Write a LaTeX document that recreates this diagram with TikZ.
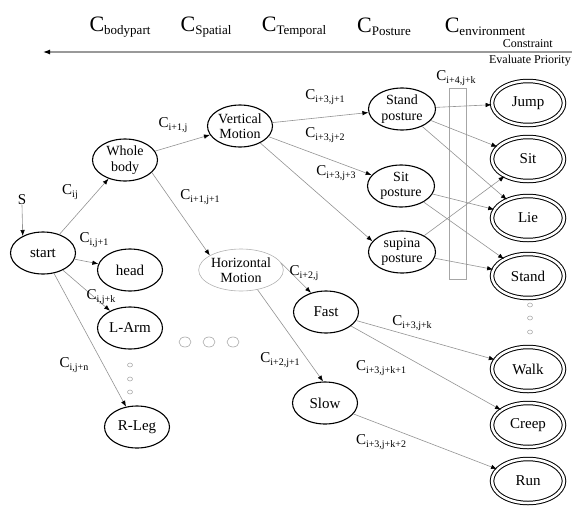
\documentclass[tikz,border=0pt]{standalone}
\usepackage{fontspec}
\setmainfont{Liberation Serif}
\usetikzlibrary{shapes.geometric,arrows.meta}
\newcommand\Csub[1]{C\raisebox{-0.35ex}{\fontsize{10}{10}\selectfont #1}}
\newcommand\Chead[1]{C\raisebox{-0.3ex}{\fontsize{13}{13}\selectfont #1}}
\begin{document}
\begin{tikzpicture}[x=1pt,y=-1pt,
  st/.style={ellipse, draw=black, line width=1.1pt, minimum width=65pt, minimum height=42pt, inner sep=0pt, font=\fontsize{15}{16}\selectfont, align=center},
  st2/.style={st, font=\fontsize{14}{15.5}\selectfont},
  fin/.style={ellipse, draw=black, line width=1pt, double=white, double distance=2.5pt, minimum width=72pt, minimum height=44pt, inner sep=0pt, font=\fontsize{15}{16}\selectfont},
  conn/.style={draw=gray!85, line width=0.6pt, -{Latex[length=6pt,width=4.5pt,color=black]}},
  lab/.style={font=\fontsize{15}{16}\selectfont, inner sep=0pt},
  hlab/.style={font=\fontsize{22}{24}\selectfont, inner sep=0pt},
  small/.style={font=\fontsize{12}{13}\selectfont, inner sep=0pt},
  bigdot/.style={ellipse, draw=gray!70, line width=0.6pt, minimum width=12pt, minimum height=10pt, inner sep=0pt},
  sdot/.style={ellipse, draw=gray!70, line width=0.5pt, minimum width=5pt, minimum height=4pt, inner sep=0pt}
]
\useasboundingbox (0,0) rectangle (572,514);

% header
\node[hlab] (h1) at (120,27) {\Chead{bodypart}};
\node[hlab] (h2) at (206,27) {\Chead{Spatial}};
\node[hlab] (h3) at (294,27) {\Chead{Temporal}};
\node[hlab] (h4) at (384,27) {\Chead{Posture}};
\node[hlab] (h5) at (485,27) {\Chead{environment}};
\coordinate (ar) at (572,52);
\coordinate (al) at (43,52);
\draw[draw=gray!80, line width=1.2pt, -{Latex[length=7pt,width=5pt,color=black]}] (ar) -- (al);
\node[small, anchor=east] (con) at (553,44) {Constraint};
\node[small, anchor=east] (evp) at (571,61) {Evaluate Priority};

% nodes
\node[lab] (S) at (22,200) {S};
\node[st] (start) at (43,253) {start};
\node[st] (head) at (130,270) {head};
\node[st] (larm) at (130,328) {L-Arm};
\node[st] (rleg) at (137,427) {R-Leg};
\node[st2] (wb) at (125,160) {Whole\\body};
\node[st2] (vm) at (240,126) {Vertical\\Motion};
\node[st2, draw=gray!60, line width=0.6pt] (hm) at (241,270) {Horizontal\\Motion};
\node[st] (fast) at (326,312) {Fast};
\node[st] (slow) at (325,403) {Slow};
\node[st2, minimum width=67pt] (stp) at (402,109) {Stand\\posture};
\node[st2, minimum width=67pt] (sitp) at (401,186) {Sit\\posture};
\node[st2, minimum width=67pt] (sup) at (402,252) {supina\\posture};
\node[fin] (jump) at (528,103) {Jump};
\node[fin] (sit) at (528,159) {Sit};
\node[fin] (lie) at (528,218) {Lie};
\node[fin] (stand) at (528,276) {Stand};
\node[fin] (walk) at (528,369) {Walk};
\node[fin] (creep) at (528,425) {Creep};
\node[fin] (run) at (528,481) {Run};

% box
\draw[draw=gray!70, line width=0.5pt] (449,88) rectangle (466,279);

% dots
\node[bigdot] (d1) at (185,342) {};
\node[bigdot] (d2) at (209,342) {};
\node[bigdot] (d3) at (233,342) {};
\node[sdot] (v1) at (130,365) {};
\node[sdot] (v2) at (130,379) {};
\node[sdot] (v3) at (130,392) {};
\node[sdot] (w1) at (530,305) {};
\node[sdot] (w2) at (530,318) {};
\node[sdot] (w3) at (530,332) {};

% connectors
\draw[conn] (S.south) -- (start.140);
\draw[conn] (start) -- (wb);
\draw[conn] (start) -- (head);
\draw[conn] (start) -- (larm);
\draw[conn] (start) -- (rleg);
\draw[conn] (wb) -- (vm);
\draw[conn] (wb.-25) -- (hm.155);
\draw[conn] (vm) -- (stp);
\draw[conn] (vm) -- (sitp);
\draw[conn] (vm.-40) -- (sup.160);
\draw[conn] (hm.10) -- (fast.128);
\draw[conn] (hm.-50) -- (slow.95);
\draw[conn] (stp) -- (jump);
\draw[conn] (stp) -- (sit);
\draw[conn] (stp) -- (lie);
\draw[conn] (sitp) -- (lie);
\draw[conn] (sitp) -- (stand);
\draw[conn] (sup) -- (sit);
\draw[conn] (sup) -- (stand);
\draw[conn] (fast) -- (walk);
\draw[conn] (fast) -- (creep);
\draw[conn] (slow) -- (run);

% edge labels
\node[lab] (l1) at (70,192) {\Csub{ij}};
\node[lab] (l2) at (94,240) {\Csub{i,j+1}};
\node[lab] (l3) at (101,297) {\Csub{i,j+k}};
\node[lab] (l4) at (74,365) {\Csub{i,j+n}};
\node[lab] (l5) at (173,125) {\Csub{i+1,j}};
\node[lab] (l6) at (200,197) {\Csub{i+1,j+1}};
\node[lab] (l7) at (304,273) {\Csub{i+2,j}};
\node[lab] (l8) at (280,360) {\Csub{i+2,j+1}};
\node[lab] (l9) at (325,97) {\Csub{i+3,j+1}};
\node[lab] (l10) at (325,135) {\Csub{i+3,j+2}};
\node[lab] (l11) at (336,173) {\Csub{i+3,j+3}};
\node[lab] (l12) at (412,323) {\Csub{i+3,j+k}};
\node[lab] (l13) at (381,368) {\Csub{i+3,j+k+1}};
\node[lab] (l14) at (381,442) {\Csub{i+3,j+k+2}};
\node[lab] (l15) at (456,78) {\Csub{i+4,j+k}};
\end{tikzpicture}
\end{document}
